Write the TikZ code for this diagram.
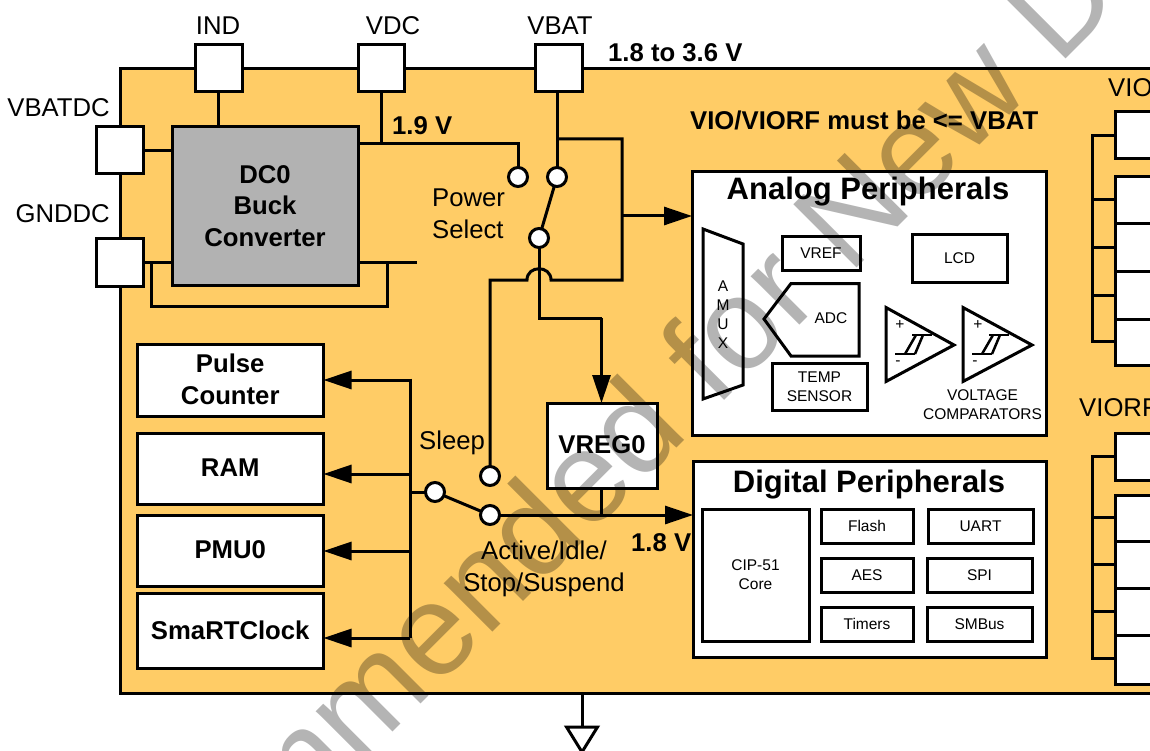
\documentclass[tikz,border=0pt]{standalone}
\usepackage{fontspec}
\setmainfont{Liberation Sans}
\usetikzlibrary{arrows.meta}
\definecolor{chip}{HTML}{FFCC66}
\definecolor{dcgray}{HTML}{B2B2B2}
\definecolor{wmgray}{HTML}{B4B4B4}
\tikzset{
  wire/.style={line width=3pt,line join=miter,draw=black},
  thinwire/.style={line width=2.5pt,line join=miter,draw=black},
  arr/.style={wire,-{Triangle[length=28pt,width=18pt]}},
  boxx/.style={draw=black,line width=3pt,fill=white,inner sep=0pt,outer sep=0pt,align=center},
  lab/.style={inner sep=0pt,align=center,font=\fontsize{25.7}{32}\selectfont},
  blab/.style={inner sep=0pt,align=center,font=\fontsize{25.7}{31.5}\selectfont\bfseries},
  small/.style={inner sep=0pt,align=center,font=\fontsize{15.5}{19}\selectfont},
  smallbox/.style={boxx,font=\fontsize{15.5}{19}\selectfont},
  boldbox/.style={boxx,font=\fontsize{25.7}{31.5}\selectfont\bfseries},
  ttl/.style={inner sep=0pt,font=\fontsize{31}{36}\selectfont\bfseries},
  pole/.style={circle,draw=black,fill=white,line width=3pt,minimum size=19pt,inner sep=0pt,outer sep=0pt},
}
\newcommand\bx[7][]{\node[boxx,#1,minimum width={(#4-#2)*1pt},minimum height={(#5-#3)*1pt}] (#6) at ({(#2+#4)/2},{(#3+#5)/2}) {#7};}
\begin{document}
\begin{tikzpicture}[x=1pt,y=-1pt]
\useasboundingbox (0,0) rectangle (1150,751);
\clip (0,0) rectangle (1150,751);
% chip body
\node[draw=black,line width=3pt,fill=chip,inner sep=0pt,outer sep=0pt,minimum width=1060pt,minimum height=624pt] (chipbody) at (650,381) {};
% ground
\coordinate (gndtop) at (chipbody.south -| 582,0);
\coordinate (gndapex) at (582,752);
\coordinate (gndl) at (566.5,727);
\coordinate (gndr) at (597.5,727);
\draw[wire] (gndtop) -- (582,727);
\draw[wire,fill=white] (gndl) -- (gndr) -- (gndapex) -- cycle;
% pins
\bx{195}{45}{242}{92}{pind}{}
\bx{358}{45}{404}{92}{pvdc}{}
\bx{535}{45}{582}{92}{pvbat}{}
\bx{96}{127}{143}{174}{pvbatdc}{}
\bx{96}{239}{143}{286}{pgnddc}{}
\node[lab] (tind) at (218,26) {IND};
\node[lab] (tvdc) at (393,26) {VDC};
\node[lab] (tvbat) at (560,26) {VBAT};
\node[lab,anchor=east] (tvbatdc) at (110,108) {VBATDC};
\node[lab,anchor=east] (tgnddc) at (110,214) {GNDDC};
\node[blab,anchor=west] (trange) at (608,53) {1.8 to 3.6 V};
\node[blab,anchor=west] (t19) at (392,126) {1.9 V};
\node[blab,anchor=west] (tmust) at (690,120) {VIO/VIORF must be <= VBAT};
% buck
\bx[boldbox,fill=dcgray]{172}{127}{358}{285}{buck}{DC0\\Buck\\Converter}
\draw[wire] (pind) -- (pind |- buck.north);
\coordinate (b19) at (358,144);
\coordinate (bvdc) at (pvdc.south |- b19);
\draw[wire] (pvdc) -- (bvdc);
\draw[wire] (pvbatdc.east |- 0,151) -- (buck.west |- 0,151);
\coordinate (g1) at (143,262.5);
\coordinate (g2) at (172,262.5);
\coordinate (g3) at (358,262.5);
\coordinate (g4) at (416.5,262.5);
\coordinate (g5) at (151.5,262.5);
\coordinate (g6) at (151.5,306);
\coordinate (g7) at (387,306);
\coordinate (g8) at (387,262.5);
\draw[wire] (g1) -- (g2);
\draw[wire] (g3) -- (g4);
\draw[wire] (g5) -- (g6) -- (g7) -- (g8);
% power select
\node[pole] (pw1) at (518,177) {};
\node[pole] (pw2) at (557,177) {};
\node[pole] (pw3) at (539,238) {};
\draw[wire] (b19) -- (518,144) -- (pw1);
\draw[wire] (pvbat.south -| pw2) -- (pw2);
\draw[wire] (pw2) -- (pw3);
\node[lab,anchor=west,align=left] (tps) at (432,214) {Power\\Select};
% analog feed
\coordinate (tap) at (557,139);
\coordinate (ra) at (622,139);
\coordinate (rb) at (622,280);
\coordinate (hopr) at (551,280);
\coordinate (hopl) at (527,280);
\coordinate (sl) at (490,280);
\node[pole] (sw1) at (490,476) {};
\node[pole] (sw2) at (490,515) {};
\node[pole] (sw0) at (435,492) {};
\draw[wire] (tap) -- (ra) -- (rb) -- (hopr) .. controls (551,265) and (527,265) .. (hopl) -- (sl) -- (sw1);
% analog block
\bx{692}{172}{1046}{435}{analog}{}
\coordinate (afeed) at (622,216);
\draw[arr] (afeed) -- (analog.west |- afeed);
\node[ttl] (tanalog) at (868,192) {Analog Peripherals};
\draw[wire,fill=white] (703,229) -- (743,244) -- (743,385) -- (703,399) -- cycle;
\node[small] (ta) at (723,286) {A};
\node[small] (tm) at (723,305) {M};
\node[small] (tu) at (723,324) {U};
\node[small] (tx) at (723,343) {X};
\bx[smallbox]{782}{237}{860}{270}{vref}{VREF}
\bx[smallbox]{912}{235}{1007}{282}{lcd}{LCD}
\draw[wire,fill=white] (764,319) -- (791,283.5) -- (859,283.5) -- (859,356) -- (791,356) -- cycle;
\node[small] (tadc) at (831,318) {ADC};
\bx[smallbox]{772}{363.5}{867}{410}{temp}{TEMP\\SENSOR}
\draw[wire,fill=white] (886,307.5) -- (954,345) -- (886,381.5) -- cycle;
\draw[wire,fill=white] (963,307.5) -- (1032,345) -- (963,381.5) -- cycle;
\draw[thinwire] (895,354) -- (915,354);
\draw[thinwire] (912,335) -- (932,335);
\draw[thinwire] (905,354) -- (916,335);
\draw[thinwire] (915,354) -- (923,335);
\draw[thinwire] (972,354) -- (992,354);
\draw[thinwire] (989,335) -- (1009,335);
\draw[thinwire] (982,354) -- (993,335);
\draw[thinwire] (992,354) -- (1000,335);
\node[small] (tp1) at (900,325) {+};
\node[small] (tn1) at (898,363) {-};
\node[small] (tp2) at (978,325) {+};
\node[small] (tn2) at (975,363) {-};
\node[small] (tvc) at (982.5,405) {VOLTAGE\\COMPARATORS};
% VREG
\bx[boldbox]{547}{403}{657}{488}{vreg}{\raisebox{2pt}{VREG0}}
\coordinate (d1) at (539,318);
\coordinate (d2) at (601.5,318);
\draw[wire] (pw3) -- (d1) -- (d2);
\draw[arr] (d2) -- (d2 |- vreg.north);
% digital block
\bx{693}{461}{1046}{657}{digital}{}
\node[ttl] (tdigital) at (869,485) {Digital Peripherals};
\bx[smallbox]{702}{509}{809}{641}{cip}{CIP-51\\Core}
\bx[smallbox]{821}{509}{913}{543}{flash}{Flash}
\bx[smallbox]{821}{558}{913}{592}{aes}{AES}
\bx[smallbox]{821}{607.5}{913}{641}{timers}{Timers}
\bx[smallbox]{928}{509}{1033}{543}{uart}{UART}
\bx[smallbox]{927}{558}{1032}{592}{spi}{SPI}
\bx[smallbox]{927}{607.5}{1032}{641}{smbus}{SMBus}
\draw[arr] (sw2) -- (digital.west |- sw2);
\draw[wire] (vreg.south -| d2) -- (d2 |- sw2);
\node[blab,anchor=west] (t18) at (631,543) {1.8 V};
% sleep switch
\draw[wire] (sw0) -- (sw2);
\node[lab,anchor=west] (tsleep) at (419,443) {Sleep};
\node[lab] (tactive) at (544,569) {Active/Idle/\\Stop/Suspend};
% left blocks
\bx[boldbox]{137}{344}{323.5}{416}{pulse}{\raisebox{1.5pt}{Pulse}\\\raisebox{1.5pt}{Counter}}
\bx[boldbox]{137}{433}{323.5}{504}{ram}{\raisebox{1pt}{RAM}}
\bx[boldbox]{137}{515}{323.5}{586}{pmu}{\raisebox{1.5pt}{PMU0}}
\bx[boldbox]{137}{593}{323.5}{668}{smart}{SmaRTClock}
\coordinate (bt) at (410,380);
\coordinate (bb) at (410,638);
\coordinate (bsw) at (410,492);
\coordinate (b2) at (410,474);
\coordinate (b3) at (410,551);
\draw[wire] (sw0) -- (bsw);
\draw[arr] (bt) -- (pulse.east |- bt);
\draw[arr] (b2) -- (ram.east |- b2);
\draw[arr] (b3) -- (pmu.east |- b3);
\draw[arr] (bb) -- (smart.east |- bb);
\draw[wire] (410,378.5) -- (bb);
% VIO pins
\node[lab,anchor=west] (tvio) at (1108,88) {VIO};
\node[lab,anchor=west] (tviorf) at (1079,408) {VIORF};
\bx{1115}{112}{1200}{159}{va}{}
\bx{1115}{177}{1200}{224}{vb}{}
\bx{1115}{224}{1200}{271.5}{vc}{}
\bx{1115}{271.5}{1200}{319}{vd}{}
\bx{1115}{319}{1200}{365}{ve}{}
\coordinate (vbt) at (1092,135.5);
\coordinate (vbb) at (1092,341.5);
\draw[wire] (va.west |- vbt) -- (vbt) -- (vbb) -- (ve.west |- vbb);
\draw[wire] (1092,200) -- (vb.west |- 0,200);
\draw[wire] (1092,248) -- (vc.west |- 0,248);
\draw[wire] (1092,295) -- (vd.west |- 0,295);
\bx{1115}{433}{1200}{480}{ra1}{}
\bx{1115}{495}{1200}{541.5}{rb1}{}
\bx{1115}{541.5}{1200}{588}{rc1}{}
\bx{1115}{588}{1200}{635}{rd1}{}
\bx{1115}{635}{1200}{684}{re1}{}
\coordinate (rbt) at (1092.5,456.5);
\coordinate (rbb) at (1092.5,658);
\draw[wire] (ra1.west |- rbt) -- (rbt) -- (rbb) -- (re1.west |- rbb);
\draw[wire] (1092.5,517) -- (rb1.west |- 0,517);
\draw[wire] (1092.5,564) -- (rc1.west |- 0,564);
\draw[wire] (1092.5,611.5) -- (rd1.west |- 0,611.5);
% watermark
\begin{scope}[blend mode=multiply]
\node[inner sep=0pt,anchor=base west,rotate=45,text=wmgray,font={\fontsize{130}{130}\selectfont}] (wm) at (-101,1226) {Not Recommended for New Designs};
\end{scope}
\end{tikzpicture}
\end{document}
